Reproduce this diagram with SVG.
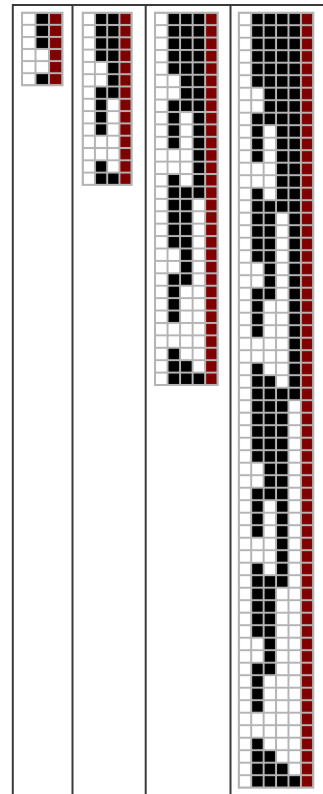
<svg xmlns="http://www.w3.org/2000/svg" width="323" height="794" viewBox="0 0 323 794">
<style>
.bg{fill:#ffffff}
.k{fill:#000000}
.r{fill:#800000}
.ms{fill:none;stroke:#b4b4b4;stroke-width:2}
.ob{fill:none;stroke:#b4b4b4;stroke-width:2}
.div{stroke:#3a3a3a;stroke-width:2;fill:none}
</style>
<defs>
<pattern id="g1" patternUnits="userSpaceOnUse" x="22" y="12.7" width="13.5" height="12.1"><rect width="13.5" height="12.1" class="ms"/></pattern>
<pattern id="g2" patternUnits="userSpaceOnUse" x="82.7" y="12.7" width="12.25" height="12.3"><rect width="12.25" height="12.3" class="ms"/></pattern>
<pattern id="g3" patternUnits="userSpaceOnUse" x="155" y="12.7" width="12.54" height="12.41"><rect width="12.54" height="12.41" class="ms"/></pattern>
<pattern id="g4" patternUnits="userSpaceOnUse" x="238.8" y="12.7" width="12.42" height="12.5"><rect width="12.42" height="12.5" class="ms"/></pattern>
</defs>
<rect width="323" height="794" fill="#ffffff"/>
<g id="frame">
<path class="div" d="M12 5H323M12.8 4V794M72.5 4V794M145.7 4V794M230.5 4V794"/>
</g>
<g id="panel1">
<rect class="bg" x="22" y="12.7" width="40.5" height="72.6"/>
<rect class="r" x="49" y="12.7" width="13.5" height="72.6"/>
<rect class="k" x="35.5" y="12.7" width="13.5" height="36.3"/>
<rect class="k" x="35.5" y="73.2" width="13.5" height="12.1"/>
<rect fill="url(#g1)" x="22" y="12.7" width="40.5" height="72.6"/>
<rect class="ob" x="22" y="12.7" width="40.5" height="72.6"/>
</g>
<g id="panel2">
<rect class="bg" x="82.7" y="12.7" width="49" height="172.2"/>
<rect class="r" x="119.45" y="12.7" width="12.25" height="172.2"/>
<rect class="k" x="94.95" y="12.7" width="12.25" height="49.2"/>
<rect class="k" x="94.95" y="86.5" width="12.25" height="49.2"/>
<rect class="k" x="94.95" y="160.3" width="12.25" height="24.6"/>
<rect class="k" x="107.2" y="12.7" width="12.25" height="86.1"/>
<rect class="k" x="107.2" y="172.6" width="12.25" height="12.3"/>
<rect fill="url(#g2)" x="82.7" y="12.7" width="49" height="172.2"/>
<rect class="ob" x="82.7" y="12.7" width="49" height="172.2"/>
</g>
<g id="panel3">
<rect class="bg" x="155" y="12.7" width="62.7" height="372.3"/>
<rect class="r" x="205.16" y="12.7" width="12.54" height="372.3"/>
<rect class="k" x="167.54" y="12.7" width="12.54" height="62.05"/>
<rect class="k" x="167.54" y="99.57" width="12.54" height="49.64"/>
<rect class="k" x="167.54" y="174.03" width="12.54" height="74.46"/>
<rect class="k" x="167.54" y="273.31" width="12.54" height="49.64"/>
<rect class="k" x="167.54" y="347.77" width="12.54" height="37.23"/>
<rect class="k" x="180.08" y="12.7" width="12.54" height="99.28"/>
<rect class="k" x="180.08" y="186.44" width="12.54" height="99.28"/>
<rect class="k" x="180.08" y="360.18" width="12.54" height="24.82"/>
<rect class="k" x="192.62" y="12.7" width="12.54" height="186.15"/>
<rect class="k" x="192.62" y="372.59" width="12.54" height="12.41"/>
<rect fill="url(#g3)" x="155" y="12.7" width="62.7" height="372.3"/>
<rect class="ob" x="155" y="12.7" width="62.7" height="372.3"/>
</g>
<g id="panel4">
<rect class="bg" x="238.8" y="12.7" width="74.52" height="775"/>
<rect class="r" x="300.9" y="12.7" width="12.42" height="775"/>
<rect class="k" x="251.22" y="12.7" width="12.42" height="75"/>
<rect class="k" x="251.22" y="112.7" width="12.42" height="50"/>
<rect class="k" x="251.22" y="187.7" width="12.42" height="75"/>
<rect class="k" x="251.22" y="287.7" width="12.42" height="50"/>
<rect class="k" x="251.22" y="362.7" width="12.42" height="100"/>
<rect class="k" x="251.22" y="487.7" width="12.42" height="50"/>
<rect class="k" x="251.22" y="562.7" width="12.42" height="75"/>
<rect class="k" x="251.22" y="662.7" width="12.42" height="50"/>
<rect class="k" x="251.22" y="737.7" width="12.42" height="50"/>
<rect class="k" x="263.64" y="12.7" width="12.42" height="112.5"/>
<rect class="k" x="263.64" y="200.2" width="12.42" height="100"/>
<rect class="k" x="263.64" y="375.2" width="12.42" height="125"/>
<rect class="k" x="263.64" y="575.2" width="12.42" height="100"/>
<rect class="k" x="263.64" y="750.2" width="12.42" height="37.5"/>
<rect class="k" x="276.06" y="12.7" width="12.42" height="200"/>
<rect class="k" x="276.06" y="387.7" width="12.42" height="200"/>
<rect class="k" x="276.06" y="762.7" width="12.42" height="25"/>
<rect class="k" x="288.48" y="12.7" width="12.42" height="387.5"/>
<rect class="k" x="288.48" y="775.2" width="12.42" height="12.5"/>
<rect fill="url(#g4)" x="238.8" y="12.7" width="74.52" height="775"/>
<rect class="ob" x="238.8" y="12.7" width="74.52" height="775"/>
</g>
</svg>
